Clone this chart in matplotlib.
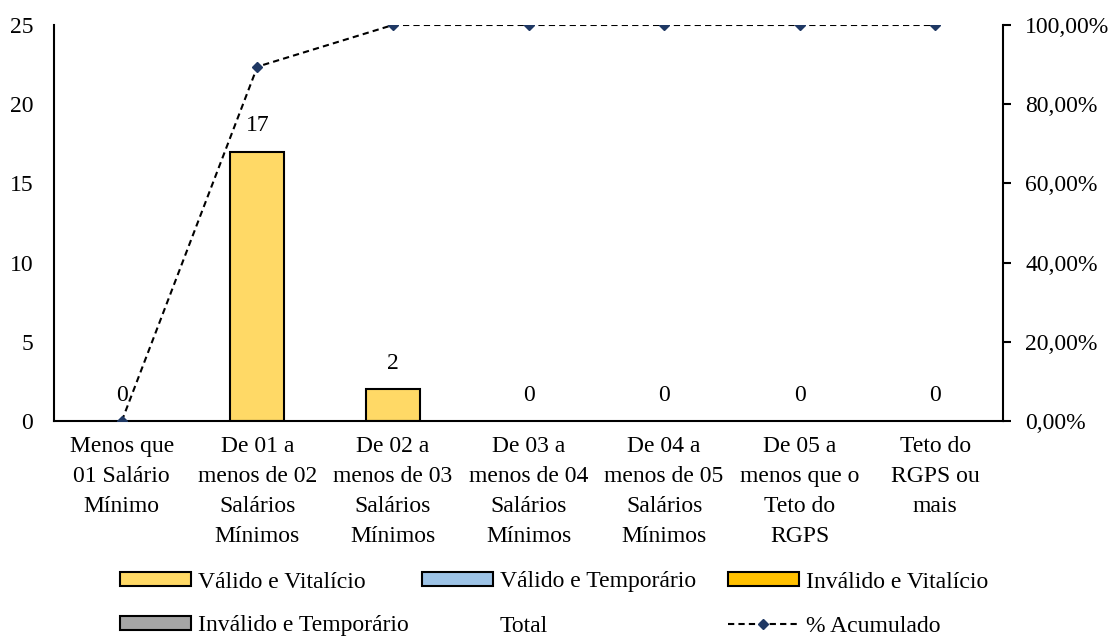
import matplotlib
matplotlib.use('Agg')
import matplotlib.pyplot as plt
from matplotlib.patches import Patch
from matplotlib.lines import Line2D
from matplotlib.ticker import FuncFormatter

plt.rcParams['font.family'] = ['Liberation Serif', 'DejaVu Serif']
plt.rcParams['font.size'] = 17

# data
categories = [
    "Menos que\n01 Salário\nMínimo",
    "De 01 a\nmenos de 02\nSalários\nMínimos",
    "De 02 a\nmenos de 03\nSalários\nMínimos",
    "De 03 a\nmenos de 04\nSalários\nMínimos",
    "De 04 a\nmenos de 05\nSalários\nMínimos",
    "De 05 a\nmenos que o\nTeto do\nRGPS",
    "Teto do\nRGPS ou\nmais",
]
valido_vitalicio = [0, 17, 2, 0, 0, 0, 0]
valido_temporario = [0, 0, 0, 0, 0, 0, 0]
invalido_vitalicio = [0, 0, 0, 0, 0, 0, 0]
invalido_temporario = [0, 0, 0, 0, 0, 0, 0]
total = [0, 17, 2, 0, 0, 0, 0]
pct_acumulado = [0.0, 0.8947, 1.0, 1.0, 1.0, 1.0, 1.0]

series = [
    ("Válido e Vitalício", valido_vitalicio, "#FFD966"),
    ("Válido e Temporário", valido_temporario, "#9DC3E6"),
    ("Inválido e Vitalício", invalido_vitalicio, "#FFC000"),
    ("Inválido e Temporário", invalido_temporario, "#A5A5A5"),
]

W, H = 1111, 638
fig = plt.figure(figsize=(W / 100, H / 100), dpi=100)
ax = fig.add_axes([54 / W, 1 - 421 / H, (1003 - 54) / W, (421 - 25) / H])

x = list(range(len(categories)))
bottom = [0] * len(x)
for name, vals, col in series:
    for i, v in enumerate(vals):
        if v > 0:
            ax.bar(i, v, width=0.4, bottom=bottom[i], color=col,
                   edgecolor='black', linewidth=1.5, zorder=2)
    bottom = [b + v for b, v in zip(bottom, vals)]

for i, t in enumerate(total):
    ax.annotate(str(t), (i, t), xytext=(0, 11), textcoords='offset points',
                ha='center', va='bottom', fontsize=17)

ax.set_xlim(-0.5, len(x) - 0.5)
ax.set_ylim(0, 25)
ax.set_yticks([0, 5, 10, 15, 20, 25])
ax.set_xticks(x)
ax.set_xticklabels(categories, linespacing=1.55)
ax.tick_params(axis='x', length=0, pad=11)
ax.tick_params(axis='y', length=0, pad=15)
for s in ['top', 'right']:
    ax.spines[s].set_visible(False)
ax.spines['left'].set_linewidth(1.5)
ax.spines['bottom'].set_linewidth(1.5)

ax2 = ax.twinx()
ax2.plot(x, pct_acumulado, linestyle=(0, (3, 2)), color='black', linewidth=1.5,
         marker='D', markersize=5, markerfacecolor='#1F3864',
         markeredgecolor='#1F3864', zorder=3)
ax2.set_ylim(0, 1)
ax2.set_yticks([0, 0.2, 0.4, 0.6, 0.8, 1.0])
ax2.yaxis.set_major_formatter(FuncFormatter(lambda v, p: f"{v * 100:.2f}%".replace('.', ',')))
ax2.tick_params(axis='y', length=6, width=1.5, pad=10)
for s in ['top', 'left', 'bottom']:
    ax2.spines[s].set_visible(False)
ax2.spines['right'].set_linewidth(1.5)


def add_entry(handle, label, xp, yp):
    fig.legend([handle], [label], loc='center left',
               bbox_to_anchor=(xp / W, 1 - yp / H), frameon=False,
               borderpad=0, borderaxespad=0, handlelength=3.0,
               handleheight=0.55, handletextpad=0.3, fontsize=17)


patch = lambda c: Patch(facecolor=c, edgecolor='black', linewidth=1.5)
add_entry(patch("#FFD966"), "Válido e Vitalício", 120, 582)
add_entry(patch("#9DC3E6"), "Válido e Temporário", 422, 582)
add_entry(patch("#FFC000"), "Inválido e Vitalício", 728, 582)
add_entry(patch("#A5A5A5"), "Inválido e Temporário", 120, 626)
add_entry(Line2D([], [], linestyle='none'), "Total", 422, 626)
add_entry(Line2D([], [], linestyle=(0, (3, 2)), color='black', linewidth=1.5,
                 marker='D', markersize=5, markerfacecolor='#1F3864',
                 markeredgecolor='#1F3864'), "% Acumulado", 728, 626)

fig.savefig('out.png', dpi=100)
